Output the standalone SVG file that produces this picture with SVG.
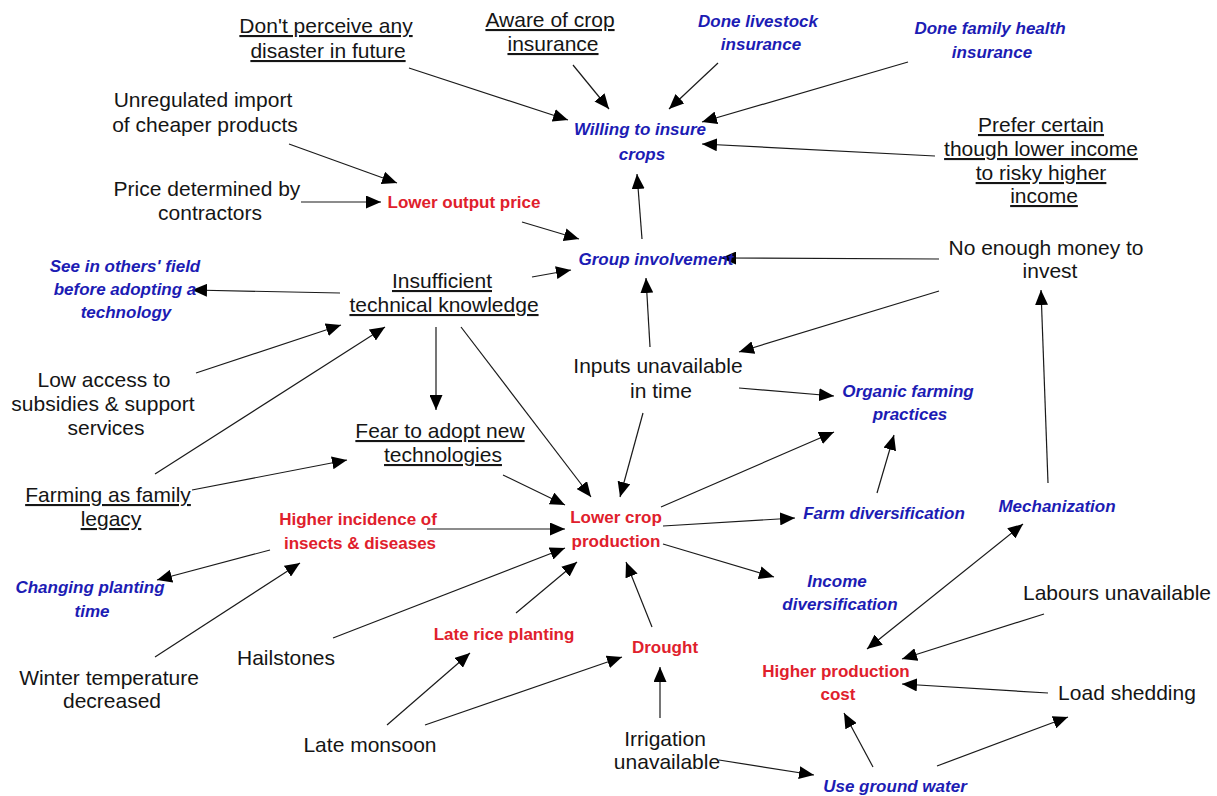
<svg xmlns="http://www.w3.org/2000/svg" width="1217" height="796" viewBox="0 0 1217 796">
  <style>
    text { font-family: "Liberation Sans", Arial, sans-serif; text-anchor: middle; }
    .b { font-size: 21px; fill: #151515; }
    .u { text-decoration: underline; }
    .r { font-size: 17px; font-weight: bold; fill: #e0202c; }
    .bl { font-size: 17px; font-weight: bold; font-style: italic; fill: #1c1cb4; }
    .edge { stroke: #1a1a1a; stroke-width: 1.2; fill: none; marker-end: url(#head); }
    .both { marker-start: url(#head); }
  </style>
  <defs>
    <marker id="head" markerUnits="userSpaceOnUse" markerWidth="15" markerHeight="13" refX="15" refY="6.5" orient="auto-start-reverse">
      <path d="M0,0 L15,6.5 L0,13 z" fill="#000"/>
    </marker>
  </defs>
  <rect width="1217" height="796" fill="#fff"/>

  <!-- connectors -->
  <g id="connectors">
    <line class="edge" x1="409" y1="68" x2="568" y2="120"/>
    <line class="edge" x1="573" y1="65" x2="609" y2="109"/>
    <line class="edge" x1="718" y1="63" x2="669" y2="109"/>
    <line class="edge" x1="908" y1="62" x2="702" y2="122"/>
    <line class="edge" x1="935" y1="156" x2="702" y2="144"/>
    <line class="edge" x1="642" y1="239" x2="637" y2="174"/>
    <line class="edge" x1="939" y1="259" x2="721" y2="258"/>
    <line class="edge" x1="939" y1="291" x2="739" y2="352"/>
    <line class="edge" x1="1048" y1="483" x2="1041" y2="290"/>
    <line class="edge" x1="289" y1="144" x2="397" y2="183"/>
    <line class="edge" x1="301" y1="202" x2="381" y2="202"/>
    <line class="edge" x1="522" y1="222" x2="579" y2="239"/>
    <line class="edge" x1="532" y1="277" x2="571" y2="270"/>
    <line class="edge" x1="340" y1="293" x2="192" y2="290"/>
    <line class="edge" x1="196" y1="373" x2="341" y2="325"/>
    <line class="edge" x1="155" y1="474" x2="385" y2="327"/>
    <line class="edge" x1="436" y1="327" x2="436" y2="410"/>
    <line class="edge" x1="461" y1="327" x2="591" y2="497"/>
    <line class="edge" x1="650" y1="347" x2="646" y2="278"/>
    <line class="edge" x1="643" y1="413" x2="620" y2="497"/>
    <line class="edge" x1="739" y1="388" x2="834" y2="396"/>
    <line class="edge" x1="192" y1="490" x2="347" y2="460"/>
    <line class="edge" x1="503" y1="475" x2="565" y2="505"/>
    <line class="edge" x1="427" y1="529" x2="565" y2="529"/>
    <line class="edge" x1="270" y1="550" x2="157" y2="580"/>
    <line class="edge" x1="155" y1="657" x2="300" y2="563"/>
    <line class="edge" x1="333" y1="638" x2="565" y2="548"/>
    <line class="edge" x1="516" y1="613" x2="577" y2="562"/>
    <line class="edge" x1="652" y1="627" x2="626" y2="562"/>
    <line class="edge" x1="661" y1="507" x2="834" y2="432"/>
    <line class="edge" x1="663" y1="526" x2="795" y2="518"/>
    <line class="edge" x1="663" y1="544" x2="774" y2="577"/>
    <line class="edge" x1="877" y1="493" x2="894" y2="435"/>
    <line class="edge" x1="387" y1="725" x2="470" y2="653"/>
    <line class="edge" x1="425" y1="725" x2="622" y2="657"/>
    <line class="edge" x1="660" y1="718" x2="660" y2="667"/>
    <line class="edge" x1="719" y1="760" x2="814" y2="775"/>
    <line class="edge" x1="873" y1="767" x2="844" y2="713"/>
    <line class="edge" x1="937" y1="766" x2="1068" y2="717"/>
    <line class="edge both" x1="867" y1="649" x2="1023" y2="524"/>
    <line class="edge" x1="1044" y1="614" x2="902" y2="659"/>
    <line class="edge" x1="1048" y1="693" x2="902" y2="684"/>
  </g>

  <!-- nodes -->
  <g id="dont-perceive"><text class="b u" x="326" y="33">Don't perceive any</text><text class="b u" x="328" y="58">disaster in future</text></g>
  <g id="aware-insurance"><text class="b u" x="550" y="27">Aware of crop</text><text class="b u" x="553" y="51">insurance</text></g>
  <g id="livestock-insurance"><text class="bl" x="758" y="27">Done livestock</text><text class="bl" x="761" y="50">insurance</text></g>
  <g id="health-insurance"><text class="bl" x="990" y="34">Done family health</text><text class="bl" x="992" y="58">insurance</text></g>
  <g id="willing-insure"><text class="bl" x="640" y="135">Willing to insure</text><text class="bl" x="642" y="160">crops</text></g>
  <g id="unregulated-import"><text class="b" x="203" y="107">Unregulated import</text><text class="b" x="205" y="132">of cheaper products</text></g>
  <g id="prefer-certain"><text class="b u" x="1041" y="132">Prefer certain</text><text class="b u" x="1041" y="156">though lower income</text><text class="b u" x="1041" y="180">to risky higher</text><text class="b u" x="1044" y="203">income</text></g>
  <g id="price-contractors"><text class="b" x="207" y="196">Price determined by</text><text class="b" x="210" y="220">contractors</text></g>
  <g id="lower-output-price"><text class="r" x="464" y="208">Lower output price</text></g>
  <g id="group-involvement"><text class="bl" x="656" y="265">Group involvement</text></g>
  <g id="no-money"><text class="b" x="1046" y="255">No enough money to</text><text class="b" x="1050" y="278">invest</text></g>
  <g id="see-others"><text class="bl" x="125" y="272">See in others' field</text><text class="bl" x="125" y="295">before adopting a</text><text class="bl" x="126" y="318">technology</text></g>
  <g id="insufficient-knowledge"><text class="b u" x="442" y="288">Insufficient</text><text class="b u" x="444" y="312">technical knowledge</text></g>
  <g id="inputs-unavailable"><text class="b" x="658" y="373">Inputs unavailable</text><text class="b" x="661" y="398">in time</text></g>
  <g id="low-access"><text class="b" x="104" y="387">Low access to</text><text class="b" x="103" y="411">subsidies &amp; support</text><text class="b" x="106" y="435">services</text></g>
  <g id="organic-farming"><text class="bl" x="908" y="397">Organic farming</text><text class="bl" x="910" y="420">practices</text></g>
  <g id="fear-adopt"><text class="b u" x="440" y="438">Fear to adopt new</text><text class="b u" x="443" y="462">technologies</text></g>
  <g id="farming-legacy"><text class="b u" x="108" y="502">Farming as family</text><text class="b u" x="111" y="526">legacy</text></g>
  <g id="mechanization"><text class="bl" x="1057" y="512">Mechanization</text></g>
  <g id="farm-diversification"><text class="bl" x="884" y="519">Farm diversification</text></g>
  <g id="lower-crop-production"><text class="r" x="616" y="523">Lower crop</text><text class="r" x="616" y="547">production</text></g>
  <g id="insects-diseases"><text class="r" x="358" y="525">Higher incidence of</text><text class="r" x="360" y="549">insects &amp; diseases</text></g>
  <g id="changing-planting"><text class="bl" x="90" y="593">Changing planting</text><text class="bl" x="92" y="617">time</text></g>
  <g id="income-diversification"><text class="bl" x="837" y="587">Income</text><text class="bl" x="840" y="610">diversification</text></g>
  <g id="labours-unavailable"><text class="b" x="1117" y="600">Labours unavailable</text></g>
  <g id="late-rice"><text class="r" x="504" y="640">Late rice planting</text></g>
  <g id="drought"><text class="r" x="665" y="653">Drought</text></g>
  <g id="hailstones"><text class="b" x="286" y="665">Hailstones</text></g>
  <g id="higher-cost"><text class="r" x="836" y="677">Higher production</text><text class="r" x="838" y="700">cost</text></g>
  <g id="winter-temperature"><text class="b" x="109" y="685">Winter temperature</text><text class="b" x="112" y="708">decreased</text></g>
  <g id="load-shedding"><text class="b" x="1127" y="700">Load shedding</text></g>
  <g id="late-monsoon"><text class="b" x="370" y="752">Late monsoon</text></g>
  <g id="irrigation-unavailable"><text class="b" x="665" y="746">Irrigation</text><text class="b" x="667" y="769">unavailable</text></g>
  <g id="ground-water"><text class="bl" x="895" y="792">Use ground water</text></g>
</svg>
